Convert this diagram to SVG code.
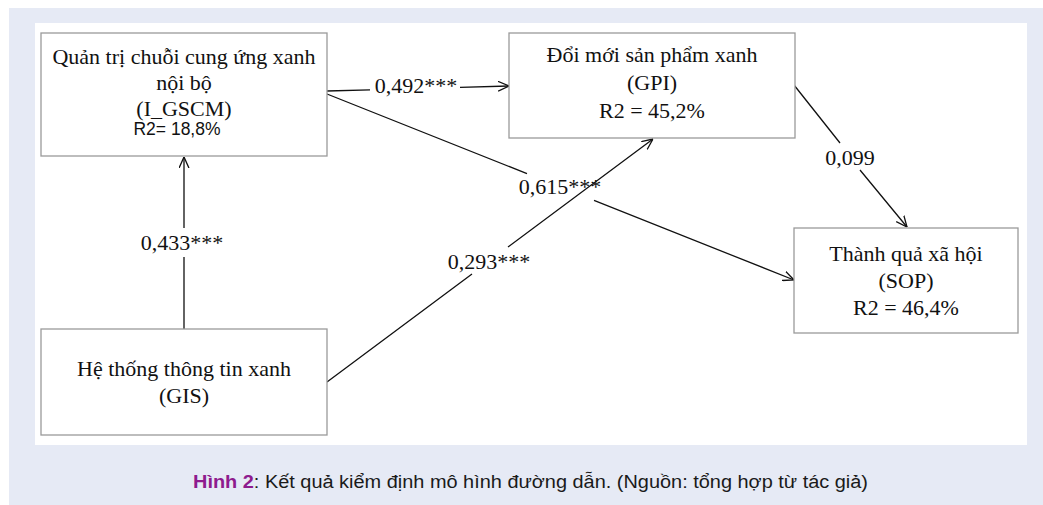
<svg xmlns="http://www.w3.org/2000/svg" width="1043" height="505" viewBox="0 0 1043 505">
<defs>
<marker id="arr" viewBox="0 0 10 10" refX="10" refY="5" markerWidth="11" markerHeight="11" markerUnits="userSpaceOnUse" orient="auto">
<path d="M0,0.5 L10,5 L0,9.5" fill="none" stroke="#111" stroke-width="1.2"/>
</marker>
<style>
.box{fill:#fff;stroke:#9a9a9a;stroke-width:1.3}
.t{font-family:"Liberation Serif","Times New Roman",serif;font-size:22px;fill:#111;text-anchor:middle}
.s{font-family:"Liberation Sans",Arial,sans-serif;font-size:17.5px;fill:#111;text-anchor:middle}
.lbl{font-family:"Liberation Serif","Times New Roman",serif;font-size:22px;fill:#111;text-anchor:middle}
.c{fill:none;stroke:#111;stroke-width:1.3;marker-end:url(#arr)}
.cap{font-family:"Liberation Sans",Arial,sans-serif;font-size:18px;fill:#1a1a1a}
</style>
</defs>
<rect x="0" y="0" width="1043" height="505" fill="#fff"/>
<rect x="9" y="8" width="1034" height="497" fill="#e6eaf5"/>
<rect x="35" y="23" width="992" height="422" fill="#fff"/>

<g id="connectors">
<path class="c" d="M327,91 L370,89.8 M460,87.3 L509,86"/>
<path class="c" d="M327,94 L527,173.6 M594,200.3 L794,280"/>
<path class="c" d="M327,382 L472,274 M508,247 L653,139"/>
<path class="c" d="M184,329 L184,257 M184,228 L184,157"/>
<path class="c" d="M794,85 L840,143 M860,170 L907,227"/>
<text class="lbl" x="416" y="93">0,492***</text>
<text class="lbl" x="560" y="194">0,615***</text>
<text class="lbl" x="489" y="269">0,293***</text>
<text class="lbl" x="182" y="250">0,433***</text>
<text class="lbl" x="850" y="165">0,099</text>
</g>

<g id="I_GSCM">
<rect class="box" x="41" y="33" width="286" height="123"/>
<text class="t" x="184" y="64">Quản trị chuỗi cung ứng xanh</text>
<text class="t" x="184" y="90">nội bộ</text>
<text class="t" x="184" y="116">(I_GSCM)</text>
<text class="s" x="177" y="135">R2= 18,8%</text>
</g>

<g id="GPI">
<rect class="box" x="509" y="33" width="286" height="105"/>
<text class="t" x="652" y="62">Đổi mới sản phẩm xanh</text>
<text class="t" x="652" y="90">(GPI)</text>
<text class="t" x="652" y="118">R2 = 45,2%</text>
</g>

<g id="SOP">
<rect class="box" x="794" y="228" width="224" height="105"/>
<text class="t" x="906" y="261">Thành quả xã hội</text>
<text class="t" x="906" y="288">(SOP)</text>
<text class="t" x="906" y="315">R2 = 46,4%</text>
</g>

<g id="GIS">
<rect class="box" x="41" y="329" width="286" height="106"/>
<text class="t" x="184" y="376">Hệ thống thông tin xanh</text>
<text class="t" x="184" y="403">(GIS)</text>
</g>

<text class="cap" x="193" y="488" textLength="675" lengthAdjust="spacingAndGlyphs"><tspan font-weight="bold" fill="#8e1b8e">Hình 2</tspan>: Kết quả kiểm định mô hình đường dẫn. (Nguồn: tổng hợp từ tác giả)</text>
</svg>
